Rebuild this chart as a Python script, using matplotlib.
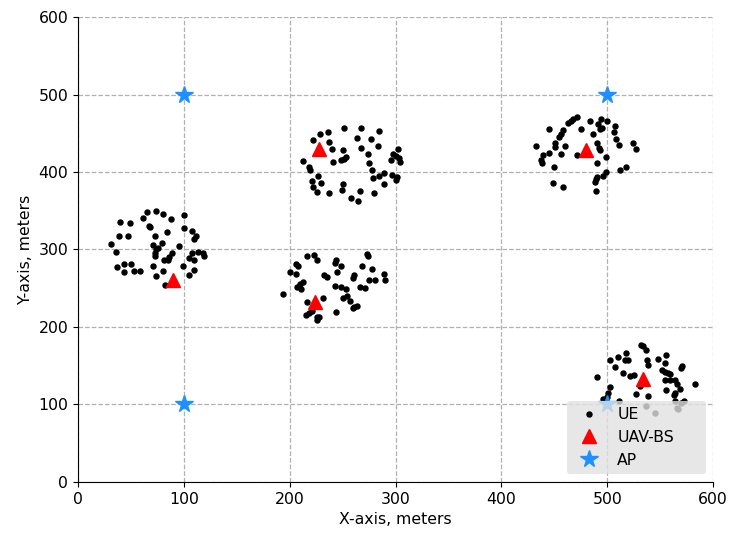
import numpy as np
import matplotlib
matplotlib.use("Agg")
import matplotlib.pyplot as plt

# UE positions per cluster (x, y) in meters
cluster1 = [(74, 350), (80, 346), (65, 348), (61, 340), (100, 344), (88, 339), (40, 336),
            (49, 334), (67, 330), (68, 329), (100, 328), (84, 323), (108, 324), (39, 318),
            (47, 317), (73, 318), (111, 317), (110, 314), (31, 307), (79, 309), (71, 306),
            (95, 305), (74, 300), (76, 302), (36, 297), (73, 296), (89, 296), (108, 295),
            (113, 297), (118, 295), (119, 291), (73, 292), (86, 290), (85, 286), (81, 286),
            (105, 289), (110, 286), (43, 281), (50, 281), (37, 277), (71, 279), (99, 279),
            (43, 271), (53, 272), (59, 272), (80, 272), (110, 273), (74, 266), (105, 267),
            (82, 254)]
cluster2 = [(251, 457), (267, 457), (284, 453), (236, 451), (229, 449), (222, 441), (264, 444),
            (277, 443), (237, 439), (240, 430), (250, 429), (267, 431), (283, 433), (302, 430),
            (213, 414), (241, 413), (248, 415), (251, 417), (253, 419), (274, 423), (298, 423),
            (300, 420), (296, 416), (303, 418), (304, 413), (275, 411), (218, 406), (219, 403),
            (227, 395), (278, 403), (279, 392), (284, 395), (289, 399), (297, 396), (301, 394),
            (300, 390), (221, 389), (230, 386), (250, 385), (222, 380), (249, 377), (266, 376),
            (289, 384), (226, 374), (237, 373), (280, 373), (258, 366), (265, 362)]
cluster3 = [(216, 291), (223, 293), (226, 286), (273, 294), (274, 291), (244, 287), (243, 282),
            (206, 281), (208, 279), (248, 279), (268, 279), (278, 275), (200, 271), (206, 268),
            (245, 271), (232, 267), (235, 264), (261, 267), (260, 263), (289, 269), (213, 258),
            (210, 255), (207, 252), (211, 249), (275, 260), (281, 260), (290, 261), (243, 253),
            (248, 252), (253, 249), (266, 251), (271, 250), (254, 240), (250, 237), (257, 233),
            (261, 226), (264, 227), (260, 224), (194, 242), (231, 238), (216, 232), (215, 216),
            (218, 218), (221, 220), (226, 213), (228, 213), (226, 209), (244, 219)]
cluster4 = [(471, 471), (468, 468), (466, 466), (463, 463), (484, 466), (494, 468), (500, 466),
            (491, 462), (493, 456), (495, 457), (507, 460), (445, 455), (458, 454), (456, 449),
            (454, 445), (475, 455), (506, 451), (487, 449), (508, 443), (451, 438), (451, 432),
            (460, 433), (433, 434), (490, 437), (492, 431), (493, 428), (511, 435), (524, 438),
            (527, 430), (445, 424), (439, 422), (456, 423), (471, 422), (499, 419), (437, 416),
            (438, 411), (450, 407), (490, 411), (512, 403), (518, 406), (499, 400), (490, 394),
            (496, 395), (489, 391), (488, 387), (449, 386), (458, 381), (489, 375)]
cluster5 = [(532, 177), (534, 175), (537, 170), (518, 167), (510, 161), (503, 157), (517, 157),
            (520, 158), (538, 157), (539, 151), (548, 159), (556, 164), (555, 153), (571, 150),
            (570, 147), (507, 149), (552, 145), (555, 142), (557, 140), (559, 139), (490, 136),
            (515, 140), (522, 137), (525, 138), (555, 132), (559, 131), (564, 132), (566, 127),
            (583, 127), (503, 122), (531, 124), (556, 119), (569, 120), (564, 115), (563, 112),
            (527, 114), (539, 111), (501, 115), (500, 110), (496, 107), (511, 105), (537, 98),
            (545, 89), (566, 96), (567, 94), (564, 104), (573, 104), (570, 102)]

uav_x = [90, 228, 224, 480, 534]
uav_y = [260, 430, 232, 428, 133]

ap_x = [100, 500, 100, 500]
ap_y = [500, 500, 100, 100]

ticks = [0, 100, 200, 300, 400, 500, 600]

plt.rcParams['font.size'] = 11.3

fig = plt.figure(figsize=(7.32, 5.33), dpi=100)
ax = fig.add_axes([0.1066, 0.0957, 0.8675, 0.8724])

ue = np.array(cluster1 + cluster2 + cluster3 + cluster4 + cluster5)
ax.plot(ue[:, 0], ue[:, 1], 'o', color='black', markersize=3.6, linestyle='none', label='UE')
ax.plot(uav_x, uav_y, '^', color='red', markersize=10, linestyle='none', label='UAV-BS')
ax.plot(ap_x, ap_y, '*', color='dodgerblue', markersize=13, linestyle='none', label='AP')

ax.set_xlim(0, 600)
ax.set_ylim(0, 600)
ax.set_xticks(ticks)
ax.set_yticks(ticks)
ax.set_xlabel('X-axis, meters')
ax.set_ylabel('Y-axis, meters')
ax.grid(True, linestyle='--', color='#b0b0b0', linewidth=0.9)
ax.set_axisbelow(True)
ax.spines['top'].set_visible(False)
ax.spines['right'].set_visible(False)

# legend box stretched to the width seen in the reference
leg = ax.legend(loc='lower left', bbox_to_anchor=(0.770, 0.0172, 0.219, 0.161),
                mode='expand', borderaxespad=0, facecolor='#e1e1e1', framealpha=0.8,
                edgecolor='none', fontsize=11.3)

fig.savefig('out.png', dpi=100)
